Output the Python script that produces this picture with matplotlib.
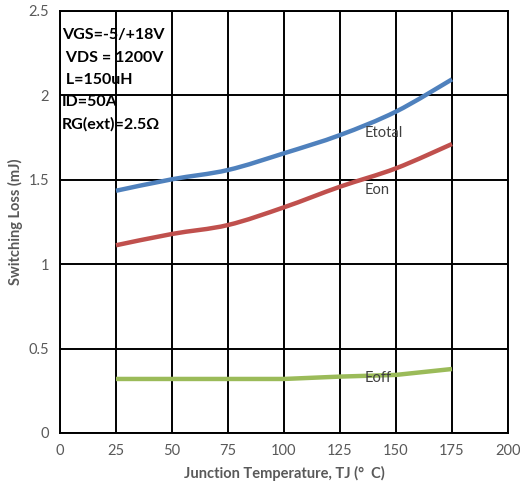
#!/usr/bin/env python3

import numpy as np
import matplotlib
matplotlib.use("Agg")
import matplotlib.pyplot as plt
from matplotlib.path import Path
from matplotlib.patches import PathPatch


TEMPS = [25, 50, 75, 100, 125, 150, 175]
ETOTAL = [1.435, 1.503, 1.558, 1.657, 1.765, 1.904, 2.095]
EON = [1.112, 1.179, 1.232, 1.337, 1.459, 1.568, 1.712]
EOFF = [0.32, 0.32, 0.32, 0.32, 0.334, 0.344, 0.379]

# name, values, colour, label position, smoothing
SERIES = [
    ("Etotal", ETOTAL, "#4F81BD", (136, 1.78), 1 / 6),
    ("Eon", EON, "#C0504D", (136, 1.44), 1 / 6),
    ("Eoff", EOFF, "#9BBB59", (136, 0.326), 0.0),
]

CONDITIONS = ["VGS=-5/+18V", " VDS = 1200V", " L=150uH", "ID=50A", "RG(ext)=2.5Ω"]


def smooth_path(x, y, tension=1 / 6):
    # Excel-style smoothed line: Catmull-Rom segments as cubic Beziers
    x = np.asarray(x, float)
    y = np.asarray(y, float)
    verts = [(x[0], y[0])]
    codes = [Path.MOVETO]
    n = len(x)
    for i in range(n - 1):
        p0 = i - 1 if i > 0 else i
        p3 = i + 2 if i + 2 < n else i + 1
        c1 = (x[i] + (x[i + 1] - x[p0]) * tension, y[i] + (y[i + 1] - y[p0]) * tension)
        c2 = (x[i + 1] - (x[p3] - x[i]) * tension, y[i + 1] - (y[p3] - y[i]) * tension)
        verts += [c1, c2, (x[i + 1], y[i + 1])]
        codes += [Path.CURVE4] * 3
    return Path(verts, codes)


def main():
    plt.rcParams["font.family"] = ["Lato", "DejaVu Sans"]
    fig = plt.figure(figsize=(5.2, 4.95), dpi=100)
    ax = fig.add_axes([0.1154, 0.1253, 0.8615, 0.8525])

    ax.set_xlim(0, 200)
    ax.set_ylim(0, 2.5)
    ax.set_xticks(range(0, 201, 25))
    ax.set_yticks([0, 0.5, 1, 1.5, 2, 2.5])
    ax.set_yticklabels(["0", "0.5", "1", "1.5", "2", "2.5"])
    ax.tick_params(length=0, labelsize=10.5, labelcolor="#595959", pad=8)
    ax.grid(True, color="black", linewidth=1.4)
    ax.set_axisbelow(True)
    for spine in ax.spines.values():
        spine.set_color("black")
        spine.set_linewidth(1.4)

    for name, values, color, label_pos, tension in SERIES:
        patch = PathPatch(smooth_path(TEMPS, values, tension), facecolor="none",
                          edgecolor=color, linewidth=3.2, capstyle="butt",
                          joinstyle="round", zorder=3)
        ax.add_patch(patch)
        ax.text(label_pos[0], label_pos[1], name, fontsize=10.5, color="#404040",
                ha="left", va="center", zorder=4)

    for i, line in enumerate(CONDITIONS):
        ax.text(0.8, 2.355 - i * 0.131, line, fontsize=11.5, fontweight="bold",
                color="black", ha="left", va="center", zorder=4)

    ax.set_xlabel("Junction Temperature, TJ (°  C)", fontsize=10.5,
                  fontweight="bold", color="#595959", labelpad=6)
    ax.set_ylabel("Switching Loss (mJ)", fontsize=10.5, fontweight="bold",
                  color="#595959", labelpad=4)

    fig.savefig("out.png", dpi=100)
    plt.close(fig)


if __name__ == "__main__":
    main()
